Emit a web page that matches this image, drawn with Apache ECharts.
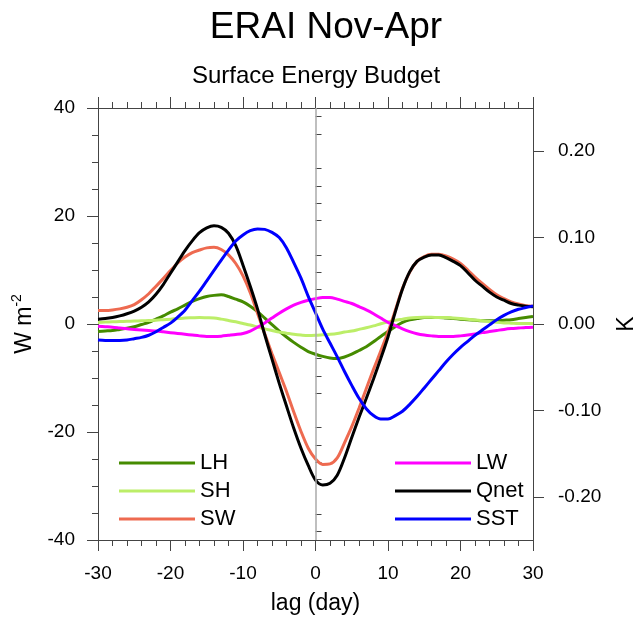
<!DOCTYPE html>
<html>
<head>
<meta charset="utf-8">
<script src="https://cdn.jsdelivr.net/npm/echarts@6/dist/echarts.min.js"></script>
<style>
html,body{margin:0;padding:0;background:#fff;}
#chart{width:641px;height:619px;}
</style>
</head>
<body>
<div id="chart"></div>
<script>
const lags = [-30,-29,-28,-27,-26,-25,-24,-23,-22,-21,-20,-19,-18,-17,-16,-15,-14,-13,-12,-11,-10,-9,-8,-7,-6,-5,-4,-3,-2,-1,0,1,2,3,4,5,6,7,8,9,10,11,12,13,14,15,16,17,18,19,20,21,22,23,24,25,26,27,28,29,30];
const LH   = [-1.4,-1.3,-1.2,-1.0,-0.8,-0.5,-0.1,0.3,0.9,1.5,2.2,2.8,3.5,4.2,4.7,5.1,5.3,5.4,5.1,4.6,4.1,3.3,2.3,1.1,-0.1,-1.3,-2.4,-3.4,-4.3,-5.1,-5.6,-6.0,-6.3,-6.4,-6.1,-5.6,-4.9,-4.2,-3.3,-2.3,-1.4,-0.5,0.3,0.8,1.0,1.2,1.2,1.2,1.1,1.0,0.9,0.8,0.7,0.6,0.6,0.6,0.7,0.8,1.0,1.2,1.4];
const SH   = [0.3,0.35,0.4,0.45,0.5,0.55,0.6,0.65,0.7,0.8,0.9,1.0,1.1,1.15,1.2,1.15,1.1,0.9,0.65,0.4,0.1,-0.2,-0.55,-0.9,-1.2,-1.5,-1.7,-1.9,-2.05,-2.15,-2.1,-2.0,-1.9,-1.75,-1.5,-1.3,-1.0,-0.7,-0.35,0.05,0.4,0.7,0.9,1.1,1.2,1.25,1.25,1.2,1.2,1.1,1.0,0.9,0.75,0.6,0.45,0.3,0.2,0.15,0.1,0.1,0.1];
const SW   = [2.5,2.5,2.6,2.8,3.1,3.6,4.5,5.6,7.0,8.4,9.9,11.3,12.4,13.2,13.7,14.1,14.2,13.8,12.8,11.2,8.9,5.8,2.0,-1.8,-5.5,-9.0,-12.5,-16.3,-19.9,-23.0,-25.0,-26.0,-25.9,-24.8,-22.0,-19.0,-15.6,-12.0,-8.4,-5.0,-1.5,2.5,6.6,9.6,11.6,12.5,12.9,12.9,12.6,12.0,11.2,10.0,8.7,7.5,6.4,5.4,4.7,4.1,3.7,3.4,3.3];
const LW   = [-0.4,-0.5,-0.6,-0.75,-0.9,-1.0,-1.1,-1.2,-1.3,-1.45,-1.6,-1.75,-1.9,-2.05,-2.2,-2.3,-2.3,-2.25,-2.1,-1.95,-1.75,-1.3,-0.6,0.2,1.1,2.0,2.8,3.5,4.0,4.4,4.7,4.9,4.9,4.6,4.2,3.8,3.2,2.6,1.9,1.1,0.3,-0.3,-0.9,-1.4,-1.8,-2.05,-2.2,-2.3,-2.3,-2.3,-2.2,-2.05,-1.85,-1.6,-1.4,-1.2,-1.0,-0.85,-0.75,-0.65,-0.6];
const Qnet = [0.9,1.0,1.2,1.5,1.9,2.4,3.1,4.1,5.5,7.3,9.4,11.5,13.6,15.4,16.9,17.8,18.2,17.9,16.8,14.5,10.9,7.0,2.8,-2.0,-6.5,-11.0,-15.2,-19.3,-23.0,-26.2,-28.9,-29.8,-29.5,-28.0,-24.8,-21.0,-17.3,-13.8,-10.2,-6.4,-2.4,2.2,6.5,9.7,11.6,12.4,12.8,12.8,12.3,11.6,10.8,9.5,8.1,7.0,5.9,5.0,4.4,3.8,3.5,3.3,3.2];
const SST  = [-0.0185,-0.019,-0.019,-0.019,-0.0185,-0.017,-0.0155,-0.013,-0.009,-0.004,0.001,0.008,0.016,0.027,0.038,0.050,0.062,0.074,0.0855,0.096,0.103,0.108,0.110,0.1095,0.106,0.100,0.088,0.071,0.053,0.032,0.013,-0.006,-0.022,-0.038,-0.055,-0.071,-0.086,-0.098,-0.106,-0.110,-0.110,-0.106,-0.101,-0.093,-0.084,-0.074,-0.064,-0.054,-0.044,-0.035,-0.027,-0.020,-0.013,-0.007,-0.001,0.005,0.010,0.014,0.017,0.019,0.021];
const kMajor = [-0.2,-0.1,0,0.1,0.2];
const kMinor = [-0.24,-0.22,-0.18,-0.16,-0.14,-0.12,-0.08,-0.06,-0.04,-0.02,0.02,0.04,0.06,0.08,0.12,0.14,0.16,0.18,0.22,0.24];

const FONT = '"Liberation Sans", Arial, Helvetica, sans-serif';
const AX = '#444';
const pairs = v => lags.map((l,i)=>[l, v[i]]);

const chart = echarts.init(document.getElementById('chart'), null, {renderer:'canvas'});

function line(name, data, color, yIdx){
  return {name, type:'line', data: pairs(data), yAxisIndex: yIdx||0, smooth:0.3, symbol:'none',
    lineStyle:{color, width:3}, itemStyle:{color}, z:3, silent:true};
}

const legendText = {fontSize:22, lineHeight:22, fontFamily:FONT, color:'#000'};

const option = {
  animation:false,
  backgroundColor:'#fff',
  textStyle:{fontFamily:FONT, color:'#000'},
  graphic:[
    {type:'text', x:326, y:9, style:{text:'ERAI Nov-Apr', font:'37px '+FONT, fill:'#000', textAlign:'center', textVerticalAlign:'top'}},
    {type:'text', x:316, y:64, style:{text:'Surface Energy Budget', font:'24px '+FONT, fill:'#000', textAlign:'center', textVerticalAlign:'top'}}
  ],
  grid:{left:98, right:108, top:108, bottom:79, containLabel:false, outerBoundsMode:'none', show:false},
  legend:[
    {data:['LH','SH','SW'], orient:'vertical', left:119, top:452, padding:0, itemWidth:76, itemHeight:3, itemGap:6, icon:'rect',
     textStyle:legendText, selectedMode:false},
    {data:['LW','Qnet','SST'], orient:'vertical', left:395, top:452, padding:0, itemWidth:76, itemHeight:3, itemGap:6, icon:'rect',
     textStyle:legendText, selectedMode:false}
  ],
  xAxis:[
    {type:'value', position:'bottom', min:-30, max:30, interval:10,
     name:'lag (day)', nameLocation:'middle', nameGap:52, nameTextStyle:{fontSize:23, fontFamily:FONT, color:'#000'},
     axisLine:{show:true, onZero:false, lineStyle:{color:AX, width:1}},
     axisTick:{show:true, inside:false, length:11, lineStyle:{color:AX}},
     minorTick:{show:true, splitNumber:5, length:6, lineStyle:{color:AX}},
     axisLabel:{fontSize:19, margin:24, color:'#000', fontFamily:FONT},
     splitLine:{show:false}},
    {type:'value', position:'top', min:-30, max:30, interval:10,
     axisLine:{show:true, onZero:false, lineStyle:{color:AX, width:1}},
     axisTick:{show:true, inside:false, length:11, lineStyle:{color:AX}},
     minorTick:{show:true, splitNumber:5, length:6, lineStyle:{color:AX}},
     axisLabel:{show:false}, splitLine:{show:false}}
  ],
  yAxis:[
    {type:'value', position:'left', min:-40, max:40, interval:20,
     name:'{a|W m}{b|-2}', nameLocation:'middle', nameGap:54, nameRotate:90,
     nameTextStyle:{fontFamily:FONT, color:'#000', rich:{a:{fontSize:23, fontFamily:FONT, lineHeight:30}, b:{fontSize:14, fontFamily:FONT, lineHeight:30, verticalAlign:'top'}}},
     axisLine:{show:true, onZero:false, lineStyle:{color:AX, width:1}},
     axisTick:{show:true, inside:false, length:11, lineStyle:{color:AX}},
     minorTick:{show:true, splitNumber:4, length:6, lineStyle:{color:AX}},
     axisLabel:{fontSize:19, margin:23, color:'#000', fontFamily:FONT},
     splitLine:{show:false}},
    {type:'value', position:'right', min:-0.25, max:0.25,
     name:'K', nameLocation:'middle', nameGap:82, nameRotate:90,
     nameTextStyle:{fontSize:23, fontFamily:FONT, color:'#000'},
     axisLine:{show:true, onZero:false, lineStyle:{color:AX, width:1}},
     axisTick:{show:true, inside:false, length:11, customValues:kMajor, lineStyle:{color:AX}},
     axisLabel:{fontSize:19, margin:25, color:'#000', fontFamily:FONT, customValues:kMajor, formatter:v=>v.toFixed(2)},
     splitLine:{show:false}},
    {type:'value', position:'right', min:-0.25, max:0.25, offset:0,
     axisLine:{show:false},
     axisTick:{show:true, inside:false, length:6, customValues:kMinor, lineStyle:{color:AX}},
     axisLabel:{show:false, customValues:kMinor},
     splitLine:{show:false}}
  ],
  series:[
    {name:'zero', type:'line', data:[], z:1, silent:true,
     markLine:{silent:true, symbol:['none','none'], label:{show:false}, lineStyle:{color:'#aaa', width:1.5, type:'solid'},
       data:[{xAxis:0}]}},
    line('LH', LH, '#458b00'),
    line('SH', SH, '#bcee68'),
    line('SW', SW, '#ee6a50'),
    line('LW', LW, '#ff00ff'),
    line('Qnet', Qnet, '#000000'),
    line('SST', SST, '#0000ff', 1)
  ]
};
chart.setOption(option);
</script>
</body>
</html>
